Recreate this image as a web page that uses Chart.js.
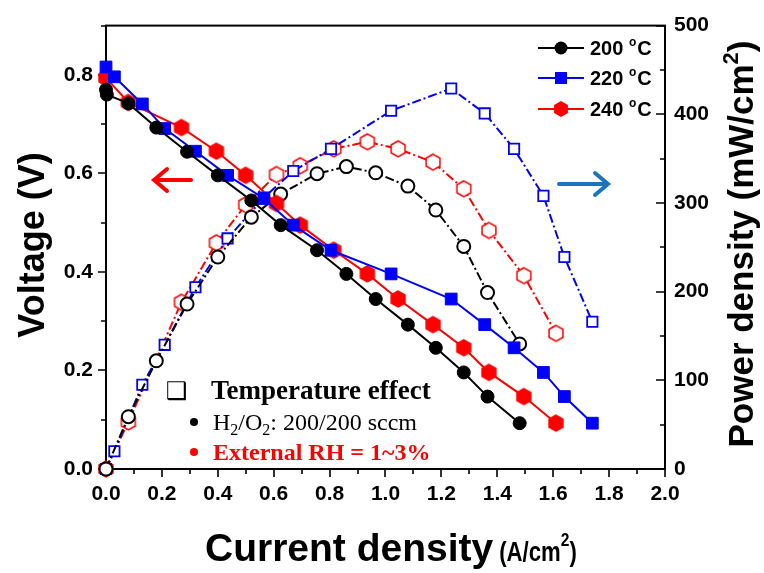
<!DOCTYPE html>
<html>
<head>
<meta charset="utf-8">
<script src="https://cdn.jsdelivr.net/npm/chart.js@4.4.1/dist/chart.umd.min.js"></script>
<style>
  html, body { margin: 0; padding: 0; background: #fff; }
</style>
</head>
<body>
<canvas id="chartFC" width="764" height="573"></canvas>
<script>
// ---- data ----
const xTicks = [0, 0.2, 0.4, 0.6, 0.8, 1.0, 1.2, 1.4, 1.6, 1.8, 2.0];
const vTicks = [0, 0.2, 0.4, 0.6, 0.8];
const pTicks = [0, 100, 200, 300, 400, 500];

// 200 C
const cur200v = [0, 0.003, 0.08, 0.18, 0.29, 0.40, 0.52, 0.625, 0.755, 0.86, 0.965, 1.08, 1.18, 1.28, 1.365, 1.48];
const volt200 = [0.770, 0.760, 0.742, 0.693, 0.644, 0.596, 0.545, 0.495, 0.444, 0.396, 0.345, 0.293, 0.246, 0.196, 0.147, 0.093];
const cur200p = [0, 0.08, 0.18, 0.29, 0.40, 0.52, 0.625, 0.755, 0.86, 0.965, 1.08, 1.18, 1.28, 1.365, 1.48];
const pow200  = [0, 59, 122, 186, 239, 284, 310, 333, 341, 334, 319, 292, 251, 199, 141];

// 220 C
const cur220  = [0, 0.03, 0.13, 0.21, 0.32, 0.435, 0.565, 0.67, 0.805, 1.02, 1.235, 1.355, 1.46, 1.565, 1.64, 1.74];
const volt220 = [0.816, 0.796, 0.741, 0.691, 0.645, 0.596, 0.549, 0.495, 0.444, 0.396, 0.345, 0.293, 0.246, 0.196, 0.147, 0.093];
const pow220  = [0, 20, 95, 140, 205, 260, 306, 336, 361, 404, 429, 401, 361, 308, 239, 166];

// 240 C
const cur240  = [0, 0.08, 0.27, 0.395, 0.50, 0.61, 0.695, 0.815, 0.935, 1.045, 1.17, 1.28, 1.37, 1.495, 1.61];
const volt240 = [0.794, 0.744, 0.693, 0.645, 0.596, 0.539, 0.495, 0.444, 0.396, 0.345, 0.293, 0.246, 0.196, 0.147, 0.093];
const pow240  = [0, 53, 188, 255, 298, 332, 342, 361, 369, 361, 346, 316, 269, 218, 153];

const legendLabels = ['200', '220', '240'];

const BLACK = '#000000', BLUE = '#0000ff', RED = '#ff0000', ARROW_BLUE = '#1a75bc';
const SANS = "'Liberation Sans', Arial, sans-serif";
const SERIF = "'Liberation Serif', 'Times New Roman', serif";

function zip(xs, ys) { return xs.map((x, i) => ({ x: x, y: ys[i] })); }

function hexPath(ctx, x, y, r) {
  ctx.beginPath();
  for (let k = 0; k < 6; k++) {
    const a = Math.PI / 2 + k * Math.PI / 3;
    const px = x + r * Math.cos(a), py = y - r * Math.sin(a);
    if (k === 0) ctx.moveTo(px, py); else ctx.lineTo(px, py);
  }
  ctx.closePath();
}

function hexImage(filled) {
  const c = document.createElement('canvas');
  c.width = 20; c.height = 20;
  const g = c.getContext('2d');
  hexPath(g, 10, 10, 8);
  g.fillStyle = filled ? RED : '#fff';
  g.fill();
  g.lineWidth = 1.5;
  g.strokeStyle = RED;
  g.stroke();
  return c;
}
const hexFilled = hexImage(true);
const hexOpen = hexImage(false);

const dashDot = [9, 3, 2, 3];

const datasets = [
  { label: '200 V', yAxisID: 'yV', data: zip(cur200v, volt200), borderColor: BLACK, backgroundColor: BLACK,
    borderWidth: 2, pointStyle: 'circle', pointRadius: 6.5, pointBorderWidth: 1 },
  { label: '220 V', yAxisID: 'yV', data: zip(cur220, volt220), borderColor: BLUE, backgroundColor: BLUE,
    borderWidth: 2, pointStyle: 'rect', pointRadius: 8.3, pointBorderWidth: 1 },
  { label: '240 V', yAxisID: 'yV', data: zip(cur240, volt240), borderColor: RED, backgroundColor: RED,
    borderWidth: 2, pointStyle: hexFilled },
  { label: '200 P', yAxisID: 'yP', data: zip(cur200p, pow200), borderColor: BLACK, backgroundColor: '#fff',
    borderWidth: 2, borderDash: dashDot, pointStyle: 'circle', pointRadius: 6.5, pointBorderWidth: 2 },
  { label: '220 P', yAxisID: 'yP', data: zip(cur220, pow220), borderColor: BLUE, backgroundColor: '#fff',
    borderWidth: 2, borderDash: dashDot, pointStyle: 'rect', pointRadius: 7.3, pointBorderWidth: 1.8 },
  { label: '240 P', yAxisID: 'yP', data: zip(cur240, pow240), borderColor: RED, backgroundColor: '#fff',
    borderWidth: 2, borderDash: dashDot, pointStyle: hexOpen }
];
datasets.forEach(d => { d.clip = false; d.tension = 0; d.pointHoverRadius = d.pointRadius; });

function drawRich(ctx, parts, x, y) {
  let cx = x;
  parts.forEach(p => {
    ctx.font = p.font;
    ctx.fillText(p.t, cx, y + (p.dy || 0));
    cx += ctx.measureText(p.t).width + (p.gap || 0);
  });
  return cx;
}
function richWidth(ctx, parts) {
  let w = 0;
  parts.forEach(p => { ctx.font = p.font; w += ctx.measureText(p.t).width + (p.gap || 0); });
  return w;
}

// frame and ticks (right ticks point inward)
const framePlugin = {
  id: 'framePlugin',
  beforeDatasetsDraw(chart) {
    const { ctx, chartArea: a, scales } = chart;
    ctx.save();
    ctx.strokeStyle = '#000';
    ctx.lineWidth = 2;
    ctx.strokeRect(a.left, a.top, a.right - a.left, a.bottom - a.top);
    ctx.lineWidth = 1.6;
    ctx.beginPath();
    for (let v = 0; v <= 2.0001; v += 0.1) {
      const px = Math.round(scales.x.getPixelForValue(v));
      const major = Math.round(v * 10) % 2 === 0;
      ctx.moveTo(px, a.bottom); ctx.lineTo(px, a.bottom + (major ? 8 : 5));
    }
    for (let v = 0; v <= 0.9001; v += 0.1) {
      const py = Math.round(scales.yV.getPixelForValue(v));
      const major = Math.round(v * 10) % 2 === 0;
      ctx.moveTo(a.left, py); ctx.lineTo(a.left - (major ? 8 : 5), py);
    }
    for (let v = 0; v <= 500; v += 50) {
      const py = Math.round(scales.yP.getPixelForValue(v));
      const major = v % 100 === 0;
      ctx.moveTo(a.right, py); ctx.lineTo(a.right - (major ? 9 : 5), py);
    }
    ctx.stroke();
    ctx.restore();
  },
  afterDraw(chart) {
    const ctx = chart.ctx;
    ctx.save();
    ctx.fillStyle = '#000';
    ctx.textBaseline = 'alphabetic';
    ctx.textAlign = 'left';

    // left title
    ctx.save();
    ctx.translate(44, 245);
    ctx.rotate(-Math.PI / 2);
    ctx.font = 'bold 36px ' + SANS;
    ctx.textAlign = 'center';
    ctx.fillText('Voltage (V)', 0, 0);
    ctx.restore();

    // right title, reading bottom to top
    const rParts = [
      { t: 'Power density (mW/cm', font: 'bold 35px ' + SANS },
      { t: '2', font: 'bold 22px ' + SANS, dy: -15 },
      { t: ')', font: 'bold 35px ' + SANS }
    ];
    ctx.save();
    ctx.translate(753, 244);
    ctx.rotate(-Math.PI / 2);
    drawRich(ctx, rParts, -richWidth(ctx, rParts) / 2, 0);
    ctx.restore();

    // bottom title, the unit part is narrower in the original
    const endX = drawRich(ctx, [{ t: 'Current density', font: 'bold 39px ' + SANS }], 205, 561);
    ctx.save();
    ctx.translate(endX + 6, 561);
    ctx.scale(0.82, 1);
    drawRich(ctx, [
      { t: '(A/cm', font: 'bold 27px ' + SANS },
      { t: '2', font: 'bold 19px ' + SANS, dy: -15 },
      { t: ')', font: 'bold 27px ' + SANS }
    ], 0, 0);
    ctx.restore();

    // legend
    const shapes = ['circle', 'rect', 'hex'];
    const colors = [BLACK, BLUE, RED];
    const ly = [48, 78, 109];
    legendLabels.forEach((lab, i) => {
      const y = ly[i];
      ctx.strokeStyle = colors[i];
      ctx.fillStyle = colors[i];
      ctx.lineWidth = 2;
      ctx.beginPath(); ctx.moveTo(538, y); ctx.lineTo(584, y); ctx.stroke();
      if (shapes[i] === 'circle') { ctx.beginPath(); ctx.arc(561, y, 6.5, 0, Math.PI * 2); ctx.fill(); }
      else if (shapes[i] === 'rect') { ctx.fillRect(555, y - 6, 12, 12); }
      else { hexPath(ctx, 561, y, 8); ctx.fill(); }
      ctx.fillStyle = '#000';
      drawRich(ctx, [
        { t: lab + ' ', font: 'bold 20px ' + SANS },
        { t: 'o', font: 'bold 12px ' + SANS, dy: -9, gap: 1 },
        { t: 'C', font: 'bold 20px ' + SANS }
      ], 590, y + 7);
    });

    // arrows
    function arrow(x1, x2, y, color) {
      const dir = Math.sign(x2 - x1);
      ctx.strokeStyle = color;
      ctx.lineWidth = 4;
      ctx.lineCap = 'round';
      ctx.beginPath();
      ctx.moveTo(x1, y); ctx.lineTo(x2, y);
      ctx.moveTo(x2 - dir * 13, y - 11); ctx.lineTo(x2, y); ctx.lineTo(x2 - dir * 13, y + 11);
      ctx.stroke();
    }
    arrow(191, 154, 180, RED);
    arrow(559, 608, 184, ARROW_BLUE);

    // annotation text
    ctx.fillStyle = '#000';
    ctx.font = '24px "DejaVu Sans"';
    ctx.fillText('\u2751', 166, 399);
    ctx.font = 'bold 27px ' + SERIF;
    ctx.fillText('Temperature effect', 211, 399);

    ctx.beginPath(); ctx.arc(194, 422, 4, 0, Math.PI * 2); ctx.fill();
    const reg = '24px ' + SERIF, sub = '16px ' + SERIF;
    drawRich(ctx, [
      { t: 'H', font: reg }, { t: '2', font: sub, dy: 5 },
      { t: '/O', font: reg }, { t: '2', font: sub, dy: 5 },
      { t: ': 200/200 sccm', font: reg }
    ], 213, 430);

    ctx.fillStyle = RED;
    ctx.beginPath(); ctx.arc(194, 452, 4, 0, Math.PI * 2); ctx.fill();
    ctx.font = 'bold 24px ' + SERIF;
    ctx.fillText('External RH = 1~3%', 213, 460);
    ctx.restore();
  }
};

const tickFont = { family: SANS, size: 21, weight: 'bold' };

new Chart(document.getElementById('chartFC'), {
  type: 'line',
  data: { datasets: datasets },
  options: {
    responsive: false,
    animation: false,
    layout: { padding: { top: 25, left: 0, right: 0, bottom: 0 } },
    plugins: { legend: { display: false }, tooltip: { enabled: false } },
    scales: {
      x: {
        type: 'linear', min: 0, max: 2.0,
        afterBuildTicks: s => { s.ticks = xTicks.map(v => ({ value: v })); },
        afterFit: s => { s.height = 104; },
        grid: { display: false, drawTicks: false },
        border: { display: false },
        ticks: { color: '#000', font: tickFont, padding: 13, maxRotation: 0, autoSkip: false,
                 callback: v => Number(v).toFixed(1) }
      },
      yV: {
        type: 'linear', position: 'left', min: 0, max: 0.9,
        afterBuildTicks: s => { s.ticks = vTicks.map(v => ({ value: v })); },
        afterFit: s => { s.width = 106; },
        grid: { display: false, drawTicks: false },
        border: { display: false },
        ticks: { color: '#000', font: tickFont, padding: 13, callback: v => Number(v).toFixed(1) }
      },
      yP: {
        type: 'linear', position: 'right', min: 0, max: 500,
        afterBuildTicks: s => { s.ticks = pTicks.map(v => ({ value: v })); },
        afterFit: s => { s.width = 99; },
        grid: { display: false, drawTicks: false },
        border: { display: false },
        ticks: { color: '#000', font: tickFont, padding: 9, callback: v => String(v) }
      }
    }
  },
  plugins: [framePlugin]
});
</script>
</body>
</html>
